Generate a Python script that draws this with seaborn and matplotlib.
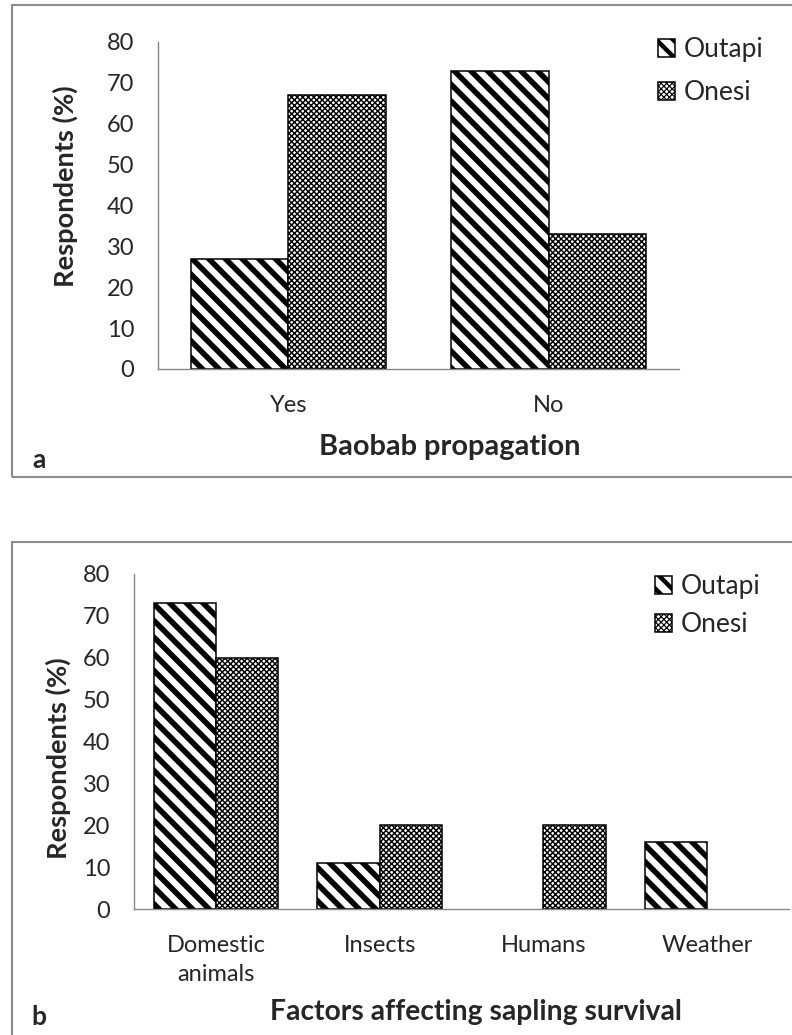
import numpy as np
import pandas as pd
import matplotlib
matplotlib.use("Agg")
import matplotlib.pyplot as plt
import matplotlib.patches as mpatches
import seaborn as sns

# ---------------- data ----------------
sites = ["Outapi", "Onesi"]
cats_a = ["Yes", "No"]
outapi_a = [27, 73]
onesi_a = [67, 33]

cats_b = ["Domestic\nanimals", "Insects", "Humans", "Weather"]
outapi_b = [73, 11, 0, 16]
onesi_b = [60, 20, 20, 0]

yticks = [0, 10, 20, 30, 40, 50, 60, 70, 80]
xlabel_a = "Baobab propagation"
xlabel_b = "Factors affecting sapling survival"
ylabel = "Respondents (%)"

# ---------------- style ----------------
sns.set_style("white")
plt.rcParams["font.family"] = ["Lato", "DejaVu Sans"]
plt.rcParams["hatch.linewidth"] = 4.0

GRAY = "#878787"
HATCHES = {"Outapi": "\\\\", "Onesi": "xxxxxx"}
HATCH_LW = {"Outapi": 4.0, "Onesi": 1.05}

W, H = 792, 1035
fig = plt.figure(figsize=(W / 100, H / 100), dpi=100)


def px_axes(left, top, right, bottom):
    return fig.add_axes([left / W, 1 - bottom / H, (right - left) / W, (bottom - top) / H])


def set_hlw(p, lw):
    if hasattr(p, "set_hatch_linewidth"):
        p.set_hatch_linewidth(lw)


def fit_text(t, target_px, dim="width"):
    """Scale a text's font size so its rendered extent matches target_px."""
    r = fig.canvas.get_renderer()
    for _ in range(3):
        bb = t.get_window_extent(renderer=r)
        cur = bb.width if dim == "width" else bb.height
        if cur > 0:
            t.set_fontsize(t.get_fontsize() * target_px / cur)


def draw_panel(ax, cats, outapi, onesi, width, xlab, xlab_pos, ylab_pos, xlab_px):
    df = pd.DataFrame({
        "cat": cats * 2,
        "site": [sites[0]] * len(cats) + [sites[1]] * len(cats),
        "val": list(outapi) + list(onesi),
    })
    sns.barplot(data=df, x="cat", y="val", hue="site", hue_order=sites,
                order=cats, palette=["white", "white"], saturation=1,
                edgecolor="black", linewidth=1.1, width=width, gap=0,
                legend=False, ax=ax, errorbar=None)
    for site, cont in zip(sites, ax.containers):
        for p in cont.patches:
            p.set_hatch(HATCHES[site])
            set_hlw(p, HATCH_LW[site])
            if p.get_height() == 0:
                p.set_linewidth(0)
                p.set_hatch("")
    n = len(cats)
    ax.set_xlim(-0.5, n - 0.5)
    ax.set_ylim(0, 80)
    ax.set_yticks(yticks)
    ax.set_xticks(range(n))
    ax.set_xticklabels(cats, fontsize=17, linespacing=1.45)
    ax.set_xticks(np.arange(-0.5, n, 1.0), minor=True)
    ax.tick_params(axis="x", which="major", length=0, pad=19)
    ax.tick_params(axis="x", which="minor", length=8, width=1, color=GRAY, direction="out")
    ax.tick_params(axis="y", which="major", length=8, width=1, color=GRAY,
                   direction="out", labelsize=17, pad=9)
    for s in ["top", "right"]:
        ax.spines[s].set_visible(False)
    for s in ["left", "bottom"]:
        ax.spines[s].set_color(GRAY)
        ax.spines[s].set_linewidth(1.0)
    ax.set_xlabel(xlab, fontsize=20, fontweight="bold")
    ax.xaxis.label.set_va("center")
    ax.xaxis.set_label_coords(*xlab_pos)
    ax.set_ylabel(ylabel, fontsize=20, fontweight="bold")
    ax.yaxis.label.set_va("center")
    ax.yaxis.set_label_coords(*ylab_pos)
    fit_text(ax.xaxis.label, xlab_px, "width")
    fit_text(ax.yaxis.label, 202, "height")


def add_legend(ax, x_px, y_px, spacing):
    handles = [mpatches.Patch(facecolor="white", edgecolor="black", linewidth=1.1,
                              hatch=HATCHES[s], label=s) for s in sites]
    leg = ax.legend(handles=handles, loc="upper left",
                    bbox_to_anchor=(x_px / W, 1 - y_px / H),
                    bbox_transform=fig.transFigure, frameon=False,
                    fontsize=19, handlelength=0.66, handleheight=0.66,
                    handletextpad=0.3, labelspacing=spacing,
                    borderpad=0, borderaxespad=0)
    for s, p in zip(sites, leg.get_patches()):
        set_hlw(p, HATCH_LW[s] * 0.8)
    return leg


# ---------------- panel a ----------------
ax1 = px_axes(158, 42, 679, 369)
draw_panel(ax1, cats_a, outapi_a, onesi_a, 0.75, xlabel_a,
           (0.56, -0.24), (-0.177, 0.56), 262)
add_legend(ax1, 658, 37, 0.68)

# ---------------- panel b ----------------
ax2 = px_axes(134, 574, 789, 909)
draw_panel(ax2, cats_b, outapi_b, onesi_b, 0.76, xlabel_b,
           (0.522, -0.307), (-0.116, 0.45), 412)
add_legend(ax2, 655, 574, 0.5)

# panel letters
fig.text(39 / W, 1 - 460 / H, "a", fontsize=19, fontweight="bold", ha="center", va="center")
fig.text(39 / W, 1 - 1017 / H, "b", fontsize=19, fontweight="bold", ha="center", va="center")

# panel borders
fig.patches.append(mpatches.Rectangle((12 / W, 1 - 477 / H), 1.05, (477 - 5) / H,
                                      transform=fig.transFigure, fill=False,
                                      edgecolor="#8c8c8c", linewidth=1.5))
fig.patches.append(mpatches.Rectangle((12 / W, -0.05), 1.05, 0.05 + 1 - 542 / H,
                                      transform=fig.transFigure, fill=False,
                                      edgecolor="#8c8c8c", linewidth=1.5))

fig.savefig("out.png", dpi=100)
